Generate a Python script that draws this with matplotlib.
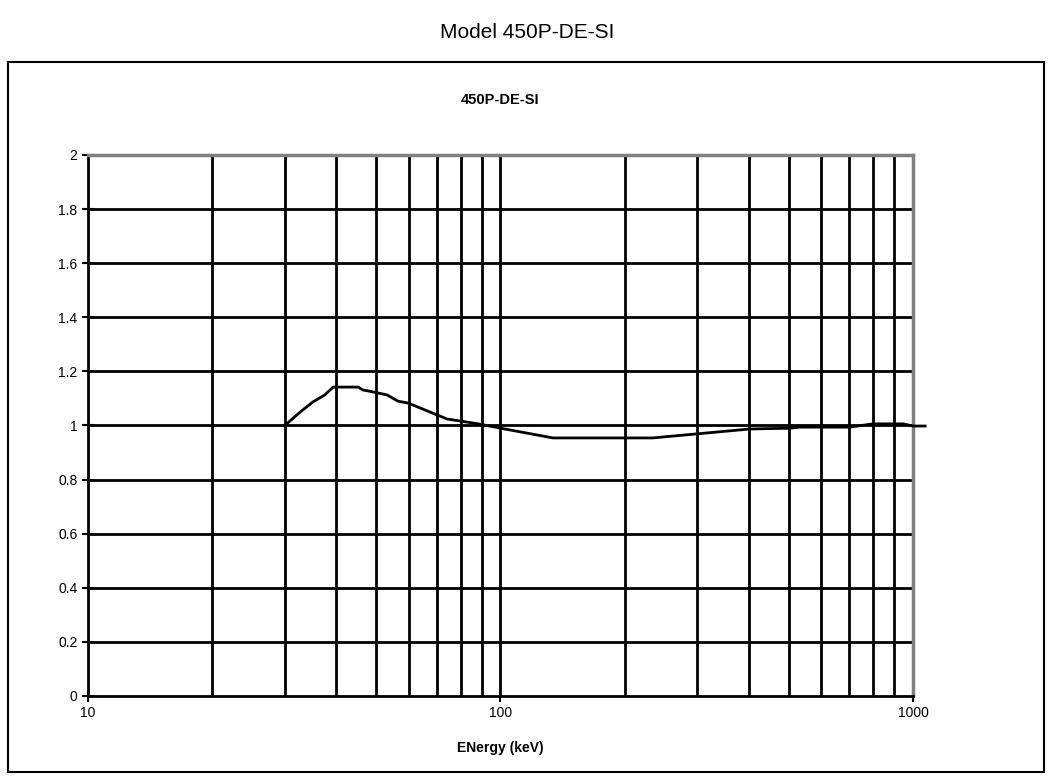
import matplotlib.pyplot as plt
from matplotlib.patches import Rectangle
from matplotlib.ticker import FixedLocator, NullFormatter

plt.rcParams['font.family'] = ['Liberation Sans', 'DejaVu Sans']

# energy response
energy = [30, 32.7, 35.1, 37.5, 39.3, 45.2, 46.4, 47.7, 53.1, 56.4, 59.7, 74.2, 89.2,
          100, 134, 171, 234, 402, 503, 532, 703, 800, 946, 1000, 1070]
response = [1.0, 1.05, 1.087, 1.113, 1.142, 1.142, 1.131, 1.128, 1.113, 1.09, 1.083, 1.024, 1.005,
            0.99, 0.954, 0.954, 0.954, 0.987, 0.99, 0.994, 0.994, 1.006, 1.006, 0.998, 0.998]

x_ticks = [10, 100, 1000]
x_grid = [20, 30, 40, 50, 60, 70, 80, 90, 100, 200, 300, 400, 500, 600, 700, 800, 900]
y_ticks = [0, 0.2, 0.4, 0.6, 0.8, 1, 1.2, 1.4, 1.6, 1.8, 2]

fig = plt.figure(figsize=(10.54, 7.82), dpi=100)
fig.text(0.5, 0.959, "Model 450P-DE-SI", ha="center", va="center", fontsize=15)
fig.patches.append(Rectangle((0.0076, 0.0128), 0.983, 0.908, transform=fig.transFigure,
                             fill=False, edgecolor="black", linewidth=1.5))

ax = fig.add_axes([0.0835, 0.110, 0.7827, 0.6918])
ax.set_xscale("log")
ax.set_xlim(10, 1000)
ax.set_ylim(0, 2)

for xv in x_grid:
    ax.axvline(xv, color="black", linewidth=2, zorder=1)
for yv in y_ticks[1:-1]:
    ax.axhline(yv, color="black", linewidth=2, zorder=1)

ax.plot(energy, response, color="black", linewidth=2, clip_on=False, zorder=3)

ax.xaxis.set_major_locator(FixedLocator(x_ticks))
ax.set_xticklabels([str(v) for v in x_ticks])
ax.xaxis.set_minor_locator(FixedLocator([]))
ax.xaxis.set_minor_formatter(NullFormatter())
ax.set_yticks(y_ticks)
ax.set_yticklabels([f"{v:g}" for v in y_ticks])
ax.tick_params(axis="both", direction="inout", length=9, width=1.5, labelsize=10)
ax.tick_params(axis="x", pad=3)
ax.tick_params(axis="y", pad=3)

for side in ["left", "bottom"]:
    ax.spines[side].set_linewidth(2)
    ax.spines[side].set_color("black")
for side in ["top", "right"]:
    ax.spines[side].set_linewidth(2.5)
    ax.spines[side].set_color("#808080")

ax.set_title("450P-DE-SI", fontsize=10.5, fontweight="bold", pad=37)
ax.set_xlabel("ENergy (keV)", fontsize=10, fontweight="bold", labelpad=15)

fig.savefig("out.png", dpi=100)
